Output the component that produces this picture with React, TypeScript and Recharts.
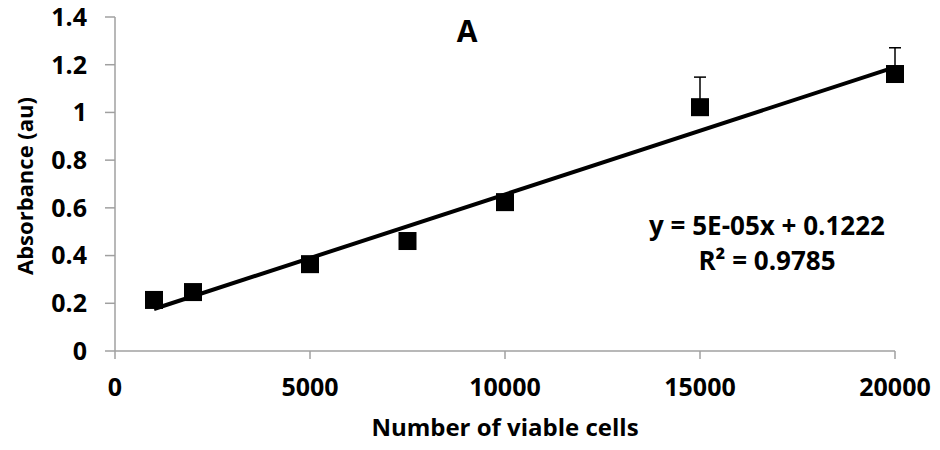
import { ErrorBar, Scatter, ScatterChart, XAxis, YAxis } from "recharts";

const FONT = "'Open Sans', Lato, sans-serif";

// cells seeded per well vs. measured absorbance
const cells = [1000, 2000, 5000, 7500, 10000, 15000, 20000];
const absorbance = [0.214, 0.247, 0.364, 0.461, 0.624, 1.022, 1.161];
const errUp = [0, 0, 0, 0, 0, 0.126, 0.11];

// linear trendline end points (y = 5E-05x + 0.1222)
const trendX = [1000, 20000];
const trendY = [0.176, 1.19];

const xTicks = [0, 5000, 10000, 15000, 20000];
const yTicks = [0, 0.2, 0.4, 0.6, 0.8, 1, 1.2, 1.4];

const points = cells.map((x, i) => ({ x, y: absorbance[i], err: [0, errUp[i]] }));
const trend = trendX.map((x, i) => ({ x, y: trendY[i] }));

const W = 940;
const H = 450;
const AXIS = "#a0a0a0";
const tickStyle = { fontSize: 25, fontWeight: 700, fill: "#000", fontFamily: FONT };

function Square(props: any) {
  const { cx, cy } = props;
  return <rect x={cx - 9} y={cy - 9} width={18} height={18} fill="#000" />;
}

export default function App() {
  return (
    <div style={{ position: "absolute", left: 0, top: 0, width: W, height: H, background: "#fff" }}>
      <ScatterChart width={W} height={H} margin={{ top: 17, right: 45, bottom: 14, left: 55 }}>
        <XAxis
          type="number"
          dataKey="x"
          domain={[0, 20000]}
          ticks={xTicks}
          height={85}
          stroke={AXIS}
          strokeWidth={1.5}
          tickSize={8}
          tickMargin={19}
          tick={tickStyle}
          tickLine={{ stroke: AXIS }}
          label={{
            value: "Number of viable cells",
            position: "insideBottom",
            offset: 0,
            style: { fontSize: 24, fontWeight: 700, fill: "#000", fontFamily: FONT },
          }}
        />
        <YAxis
          type="number"
          dataKey="y"
          domain={[0, 1.4]}
          ticks={yTicks}
          width={60}
          stroke={AXIS}
          strokeWidth={1.5}
          tickSize={10}
          tickMargin={18}
          tick={tickStyle}
          tickLine={{ stroke: AXIS }}
        />
        <Scatter
          data={trend}
          line={{ stroke: "#000", strokeWidth: 4 }}
          shape={() => <g />}
          isAnimationActive={false}
        />
        <Scatter data={points} shape={<Square />} isAnimationActive={false}>
          <ErrorBar dataKey="err" direction="y" width={6} stroke="#000" strokeWidth={1.5} />
        </Scatter>
      </ScatterChart>
      <svg
        width={W}
        height={H}
        style={{ position: "absolute", left: 0, top: 0, pointerEvents: "none" }}
        fontFamily={FONT}
        fontWeight={700}
      >
        <text x={467} y={42} textAnchor="middle" fontSize={30}>
          A
        </text>
        <text x={767} y={235} textAnchor="middle" fontSize={26}>
          y = 5E-05x + 0.1222
        </text>
        <text x={767} y={270} textAnchor="middle" fontSize={26}>
          R² = 0.9785
        </text>
        <text
          x={33}
          y={186}
          textAnchor="middle"
          fontSize={22}
          transform="rotate(-90 33 186)"
        >
          Absorbance (au)
        </text>
      </svg>
    </div>
  );
}
